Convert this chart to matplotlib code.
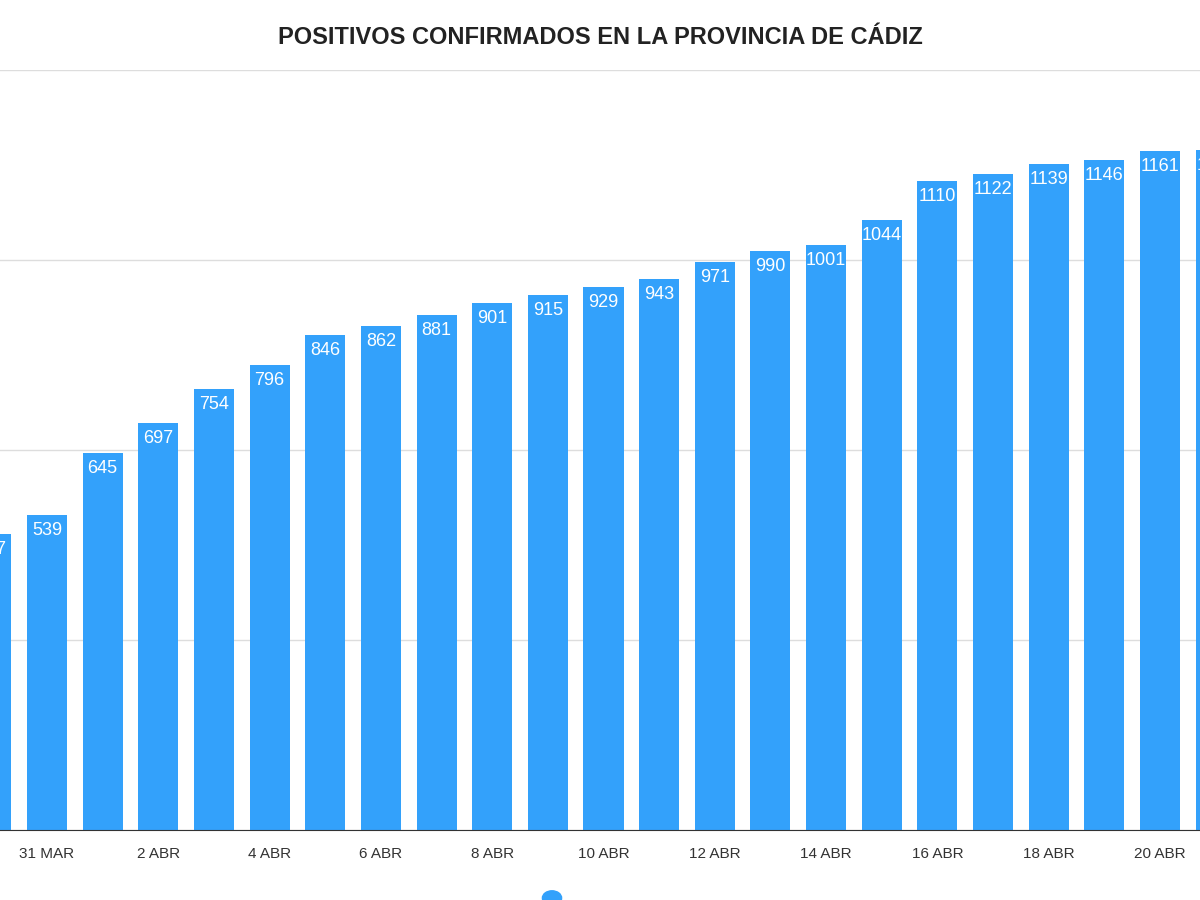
import numpy as np
import matplotlib.pyplot as plt

plt.rcParams['font.family'] = ['Liberation Sans', 'DejaVu Sans']

fechas = ["30 MAR", "31 MAR", "1 ABR", "2 ABR", "3 ABR", "4 ABR", "5 ABR", "6 ABR",
          "7 ABR", "8 ABR", "9 ABR", "10 ABR", "11 ABR", "12 ABR", "13 ABR", "14 ABR",
          "15 ABR", "16 ABR", "17 ABR", "18 ABR", "19 ABR", "20 ABR", "21 ABR"]
positivos = [507, 539, 645, 697, 754, 796, 846, 862, 881, 901, 915, 929, 943,
             971, 990, 1001, 1044, 1110, 1122, 1139, 1146, 1161, 1163]

color = "#33a1fb"
fig = plt.figure(figsize=(12, 9), dpi=100)
ax = fig.add_axes([0, 70/900, 1, 760/900])
x = np.arange(len(fechas))
ax.bar(x, positivos, width=0.72, color=color, zorder=2)
for xi, v in zip(x, positivos):
    ax.text(xi, v - 12, str(v), ha="center", va="top", color="white",
            fontsize=13, zorder=3)

ax.set_xlim(0.155, 21.72)
ax.set_ylim(0, 1300)
ax.set_yticks([0, 325, 650, 975, 1300])
ax.yaxis.grid(True, color="#dddddd", lw=1, zorder=0)
ax.tick_params(axis="y", left=False, labelleft=False)
ax.set_xticks(x[1::2])
ax.set_xticklabels(fechas[1::2], fontsize=11, color="#333333")
ax.tick_params(axis="x", length=0, pad=12)
for s in ["top", "right", "left"]:
    ax.spines[s].set_visible(False)
ax.spines["bottom"].set_color("#333333")

fig.text(0.5, 1 - 37/900, "POSITIVOS CONFIRMADOS EN LA PROVINCIA DE CÁDIZ",
         ha="center", va="center", fontsize=17, fontweight="bold", color="#222222")
fig.patches.append(plt.Circle((552/1200, 2/900), 0.008, color=color,
                              transform=fig.transFigure, figure=fig))
fig.savefig("out.png")
